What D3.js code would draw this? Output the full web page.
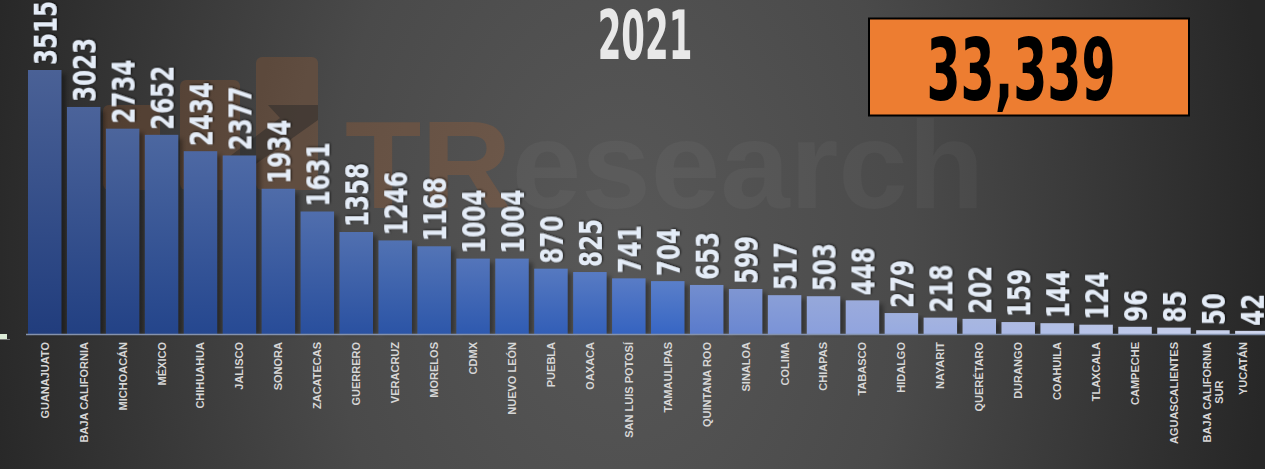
<!DOCTYPE html>
<html><head><meta charset="utf-8">
<script src="https://cdn.jsdelivr.net/npm/d3@7"></script>
<style>html,body{margin:0;padding:0;background:#2a2a2a;overflow:hidden}svg{display:block}</style>
</head><body>
<script>
const states = ["GUANAJUATO","BAJA CALIFORNIA","MICHOACÁN","MÉXICO","CHIHUAHUA","JALISCO","SONORA","ZACATECAS","GUERRERO","VERACRUZ","MORELOS","CDMX","NUEVO LEÓN","PUEBLA","OAXACA","SAN LUIS POTOSÍ","TAMAULIPAS","QUINTANA ROO","SINALOA","COLIMA","CHIAPAS","TABASCO","HIDALGO","NAYARIT","QUERÉTARO","DURANGO","COAHUILA","TLAXCALA","CAMPECHE","AGUASCALIENTES","BAJA CALIFORNIA SUR","YUCATÁN"];
const values = [3515,3023,2734,2652,2434,2377,1934,1631,1358,1246,1168,1004,1004,870,825,741,704,653,599,517,503,448,279,218,202,159,144,124,96,85,50,42];
const year = "2021";
const total = "33,339";
const watermark = ["TR","esearch"];

const W = 1265, H = 469;
const svg = d3.select("body").append("svg").attr("width", W).attr("height", H);
const defs = svg.append("defs");

// background
const bg = defs.append("radialGradient").attr("id","bg").attr("gradientUnits","userSpaceOnUse")
  .attr("cx",620).attr("cy",250).attr("r",650)
  .attr("gradientTransform","translate(620,250) scale(1,1.5) translate(-620,-250)");
bg.append("stop").attr("offset",0).attr("stop-color","#585858");
bg.append("stop").attr("offset",0.45).attr("stop-color","#4a4a4a");
bg.append("stop").attr("offset",1).attr("stop-color","#272727");
svg.append("rect").attr("width",W).attr("height",H).attr("fill","url(#bg)");

// filters
const sh = defs.append("filter").attr("id","tshadow").attr("x","-20%").attr("y","-20%").attr("width","140%").attr("height","140%");
sh.append("feDropShadow").attr("dx",1).attr("dy",1).attr("stdDeviation",1.2).attr("flood-color","#000").attr("flood-opacity",0.7);
const bl = defs.append("filter").attr("id","blur");
bl.append("feGaussianBlur").attr("stdDeviation",2);

// watermark logo
const wm = svg.append("g");
[[103,105,57],[180,80,60],[256,57,62]].forEach(([x,y,w])=>{
  wm.append("rect").attr("x",x).attr("y",y).attr("width",w).attr("height",190-y).attr("rx",6)
    .attr("fill","#c8692a").attr("opacity",0.2);
});
wm.append("path").attr("d","M268,105 L318,105 L318,120 L240,175 L225,160 L280,118 Z").attr("fill","#2a2a2a").attr("opacity",0.5);
const wt = wm.append("text").attr("x",345).attr("y",208).attr("font-family","Liberation Sans, Arial, sans-serif")
  .attr("font-weight","bold").attr("font-size",125);
wt.append("tspan").text(watermark[0]).attr("fill","#c8692a").attr("fill-opacity",0.22);
wt.append("tspan").text(watermark[1]).attr("fill","#ffffff").attr("fill-opacity",0.035);

// scales
const x = d3.scaleBand().domain(states).range([28, 1268.6]).paddingInner(0.14).paddingOuter(0);
const y = d3.scaleLinear().domain([0, 3515]).range([334, 70]);
const baseColor = d3.scaleLinear().domain([0, 9, 16, 17, 20, 31])
  .range(["#213d7d","#2b54a6","#3766c4","#5a7bcc","#8a9fdc","#d2d9f2"]).interpolate(d3.interpolateRgb);

// gradients per bar
states.forEach((s,i)=>{
  const g = defs.append("linearGradient").attr("id","bar"+i).attr("x1",0).attr("y1",0).attr("x2",0).attr("y2",1);
  const b = baseColor(i);
  g.append("stop").attr("offset",0).attr("stop-color", d3.interpolateRgb(b,"#b4bed6")(0.28));
  g.append("stop").attr("offset",1).attr("stop-color", b);
});

// bar shadows
svg.append("g").selectAll("rect").data(values).join("rect")
  .attr("x",(d,i)=>x(states[i])+4).attr("y",d=>y(d)+4)
  .attr("width",x.bandwidth()).attr("height",d=>y(0)-y(d)-4)
  .attr("fill","#000").attr("opacity",0.35).attr("filter","url(#blur)");

// bars
svg.append("g").selectAll("rect").data(values).join("rect")
  .attr("x",(d,i)=>x(states[i])).attr("y",d=>y(d))
  .attr("width",x.bandwidth()).attr("height",d=>y(0)-y(d))
  .attr("fill",(d,i)=>`url(#bar${i})`);

// baseline
svg.append("line").attr("x1",26).attr("x2",W).attr("y1",334.5).attr("y2",334.5).attr("stroke","#8592ad").attr("stroke-width",1.5);
svg.append("rect").attr("x",0).attr("y",334).attr("width",7).attr("height",5).attr("fill","#dcebd8");
svg.append("line").attr("x1",0).attr("x2",10).attr("y1",339.5).attr("y2",339.5).attr("stroke","#777").attr("stroke-width",1);

// value labels
svg.append("g").selectAll("text").data(values).join("text")
  .attr("transform",(d,i)=>`translate(${x(states[i])+x.bandwidth()/2},${y(d)-5}) rotate(-90) scale(0.72,1)`)
  .attr("dy","0.36em")
  .attr("font-family","DejaVu Sans, sans-serif").attr("font-weight","bold").attr("font-size",32)
  .attr("fill","#e4ecf7").attr("filter","url(#tshadow)")
  .text(d=>d);

// category labels
const cat = svg.append("g").selectAll("text").data(states).join("text")
  .attr("font-family","Liberation Sans, Arial, sans-serif").attr("font-weight","bold").attr("font-size",11)
  .attr("fill","#d6d6d6");
cat.each(function(s,i){
  const t = d3.select(this);
  const cx = x(s)+x.bandwidth()/2 - (i === states.length-1 ? 9 : 0);
  if (s === "BAJA CALIFORNIA SUR") {
    const lines = ["BAJA CALIFORNIA","SUR"];
    t.attr("transform",`translate(${cx},342) rotate(-90)`).attr("text-anchor","middle");
    const t1 = t.append("tspan").text(lines[0]).attr("dy","-0.2em");
    const w = t1.node().getComputedTextLength();
    t1.attr("x",-w/2);
    t.append("tspan").text(lines[1]).attr("x",-w/2).attr("dy","1.1em");
  } else {
    t.attr("transform",`translate(${cx},342) rotate(-90)`).attr("text-anchor","end").attr("dy","0.36em").text(s);
  }
});

// title
svg.append("text").attr("transform","translate(645,59) scale(0.5,1)").attr("text-anchor","middle")
  .attr("font-family","DejaVu Sans, sans-serif").attr("font-weight","bold").attr("font-size",68)
  .attr("fill","#e8e8e8").text(year);

// total box
svg.append("rect").attr("x",869).attr("y",18.5).attr("width",320).attr("height",97)
  .attr("fill","#ed7d31").attr("stroke","#000").attr("stroke-width",2);
svg.append("text").attr("transform","translate(1021,100) scale(0.57,1)").attr("text-anchor","middle")
  .attr("font-family","DejaVu Sans, sans-serif").attr("font-weight","bold").attr("font-size",86)
  .attr("fill","#000").text(total);
</script>
</body></html>
